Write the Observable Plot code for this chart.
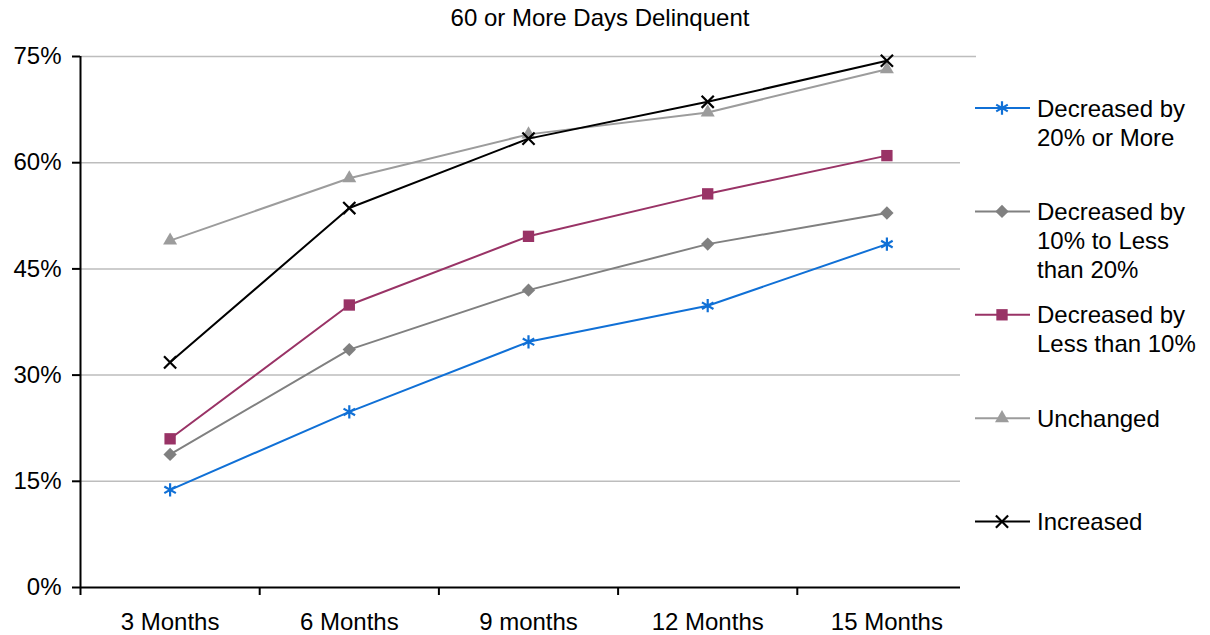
<!DOCTYPE html>
<html>
<head>
<meta charset="utf-8">
<script src="https://cdn.jsdelivr.net/npm/d3@7"></script>
<script src="https://cdn.jsdelivr.net/npm/@observablehq/plot@0.6"></script>
<style>
  html, body { margin: 0; padding: 0; background: #fff; }
  #wrap { position: relative; width: 1210px; height: 635px; overflow: hidden; font-family: "Liberation Sans", Arial, sans-serif; }
  #title { position: absolute; left: 0; top: 0; width: 1200px; height: 36px; line-height: 36px; text-align: center; font-size: 24px; color: #000; }
  #chart { position: absolute; left: 0; top: 36px; }
  #legend { position: absolute; left: 960px; top: 75px; width: 250px; height: 530px; background: #fff; }
</style>
</head>
<body>
<div id="wrap">
  <div id="title">60 or More Days Delinquent</div>
  <div id="chart"></div>
  <div id="legend"></div>
</div>
<script>
// Share of loans 60+ days delinquent, by months since origination (%)
const months = ["3 Months", "6 Months", "9 months", "12 Months", "15 Months"];
const decreased20OrMore = [13.8, 24.8, 34.7, 39.8, 48.5];
const decreased10To20 = [18.8, 33.6, 42.0, 48.5, 52.9];
const decreasedLess10 = [21.0, 39.9, 49.6, 55.6, 61.0];
const unchanged = [49.0, 57.8, 64.0, 67.1, 73.2];
const increased = [31.8, 53.6, 63.4, 68.6, 74.4];
const yTicks = [0, 15, 30, 45, 60, 75];

// Series styling, in drawing order (last on top)
const series = [
  {key: "dec20", label: ["Decreased by", "20% or More"], values: decreased20OrMore, color: "#1070d6", symbol: "asterisk", r: 6.3, filled: false},
  {key: "dec10", label: ["Decreased by", "10% to Less", "than 20%"], values: decreased10To20, color: "#808080", symbol: "diamond2", r: 6, filled: true},
  {key: "decLt10", label: ["Decreased by", "Less than 10%"], values: decreasedLess10, color: "#993366", symbol: "square", r: 6.4, filled: true},
  {key: "same", label: ["Unchanged"], values: unchanged, color: "#9c9c9c", symbol: "triangle", r: 5.2, filled: true},
  {key: "inc", label: ["Increased"], values: increased, color: "#000000", symbol: "times", r: 5.6, filled: false}
];

// Category i sits in the middle of slot [i, i+1]
const rows = series.map(s => s.values.map((v, i) => ({series: s.key, pos: i + 0.5, value: v})));
const slotEdges = d3.range(months.length + 1);
const slotCenters = months.map((m, i) => i + 0.5);

const seriesMarks = series.flatMap((s, k) => [
  Plot.line(rows[k], {x: "pos", y: "value", stroke: s.color, strokeWidth: 2}),
  Plot.dot(rows[k], {
    x: "pos", y: "value", symbol: () => s.symbol, r: s.r,
    fill: s.filled ? s.color : "none",
    stroke: s.filled ? "none" : s.color,
    strokeWidth: s.filled ? 0 : 2.2
  })
]);

const chart = Plot.plot({
  width: 1210,
  height: 599,
  marginLeft: 80,
  marginRight: 234,
  marginTop: 20,
  marginBottom: 48,
  x: {type: "linear", domain: [0, months.length], label: null},
  y: {domain: [0, 75], label: null},
  symbol: {type: "identity"},
  style: {fontFamily: "'Liberation Sans', Arial, sans-serif", fontSize: "24px", color: "#000", background: "#fff", overflow: "visible"},
  marks: [
    Plot.gridY(yTicks.filter(d => d > 0), {stroke: "#bdbdbd", strokeOpacity: 1, strokeWidth: 1.5}),
    Plot.axisY(yTicks, {tickSize: 8, tickPadding: 11, tickFormat: d => d + "%", stroke: "#000", strokeWidth: 2, fontSize: 24, label: null}),
    Plot.axisX(slotEdges, {tickSize: 8, tickFormat: () => "", stroke: "#000", strokeWidth: 2, label: null}),
    Plot.axisX(slotCenters, {tickSize: 0, tickPadding: 25, tickFormat: d => months[Math.round(d - 0.5)], fontSize: 24, label: null}),
    Plot.ruleX([0], {y1: 0, y2: 75, stroke: "#000", strokeWidth: 2}),
    Plot.ruleY([0], {stroke: "#000", strokeWidth: 2}),
    ...seriesMarks
  ]
});
document.getElementById("chart").appendChild(chart);

// Legend: line sample with marker, then the (wrapped) series name
const symbolTypes = {asterisk: d3.symbolAsterisk, diamond2: d3.symbolDiamond2, square: d3.symbolSquare, triangle: d3.symbolTriangle, times: d3.symbolTimes};
const legend = d3.select("#legend").append("svg")
  .attr("width", 250).attr("height", 530)
  .style("font-family", "'Liberation Sans', Arial, sans-serif")
  .style("font-size", "24px");
const items = legend.selectAll("g").data(series).join("g")
  .attr("transform", (d, i) => `translate(0,${33 + i * 103.4})`);
items.append("line").attr("x1", 15).attr("x2", 70).attr("y1", 0).attr("y2", 0)
  .attr("stroke", d => d.color).attr("stroke-width", 2);
items.append("path")
  .attr("transform", "translate(42,0)")
  .attr("d", d => d3.symbol(symbolTypes[d.symbol], Math.PI * d.r * d.r)())
  .attr("fill", d => d.filled ? d.color : "none")
  .attr("stroke", d => d.filled ? "none" : d.color)
  .attr("stroke-width", d => d.filled ? 0 : 2.2);
items.append("text").attr("x", 77).attr("y", 0).attr("fill", "#000")
  .selectAll("tspan").data(d => d.label).join("tspan")
  .attr("x", 77).attr("dy", (t, i) => i === 0 ? "0.36em" : "29px")
  .text(t => t);
</script>
</body>
</html>
